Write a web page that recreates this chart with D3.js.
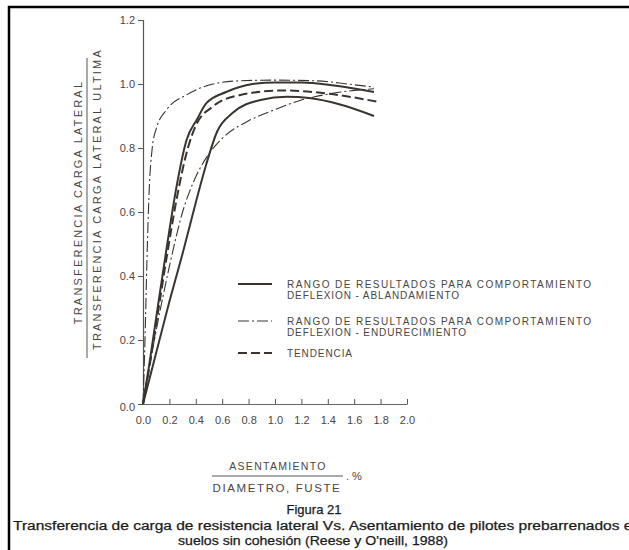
<!DOCTYPE html>
<html>
<head>
<meta charset="utf-8">
<script src="https://cdn.jsdelivr.net/npm/d3@7"></script>
<style>
  html, body { margin: 0; padding: 0; background: #fff; }
  svg { display: block; }
  text { font-family: "Liberation Sans", Arial, sans-serif; }
</style>
</head>
<body>
<svg id="chart" width="629" height="550"></svg>
<script>
// Axis ticks
const xTicks = [0.0, 0.2, 0.4, 0.6, 0.8, 1.0, 1.2, 1.4, 1.6, 1.8, 2.0];
const xTickLabels = ["0.0", "0.2", "0.4", "0.6", "0.8", "1.0", "1.2", "1.4", "1.6", "1.8", "2.0"];
const yTicks = [0.0, 0.2, 0.4, 0.6, 0.8, 1.0, 1.2];
const yTickLabels = ["0.0", "0.2", "0.4", "0.6", "0.8", "1.0", "1.2"];

// Deflexion - ablandamiento range (solid)
const ablandSupX = [0, 0.05, 0.10, 0.18, 0.25, 0.33, 0.41, 0.48, 0.63, 0.83, 1.00, 1.20, 1.45, 1.75];
const ablandSupY = [0, 0.13, 0.27, 0.49, 0.67, 0.825, 0.89, 0.94, 0.975, 1.0, 1.005, 1.005, 0.995, 0.975];
const ablandInfX = [0, 0.10, 0.20, 0.30, 0.40, 0.48, 0.56, 0.68, 0.89, 1.09, 1.26, 1.50, 1.75];
const ablandInfY = [0, 0.16, 0.32, 0.47, 0.63, 0.75, 0.85, 0.91, 0.95, 0.96, 0.956, 0.935, 0.90];

// Deflexion - endurecimiento range (dash-dot)
const endurSupX = [0, 0.015, 0.03, 0.045, 0.07, 0.10, 0.18, 0.33, 0.53, 0.73, 1.00, 1.30, 1.55, 1.75];
const endurSupY = [0, 0.20, 0.45, 0.65, 0.80, 0.86, 0.92, 0.966, 1.0, 1.01, 1.012, 1.01, 1.0, 0.99];
const endurInfX = [0, 0.05, 0.10, 0.20, 0.30, 0.40, 0.48, 0.60, 0.80, 1.00, 1.20, 1.30, 1.50, 1.75];
const endurInfY = [0, 0.12, 0.23, 0.43, 0.60, 0.71, 0.77, 0.83, 0.885, 0.92, 0.95, 0.96, 0.975, 0.985];

// Tendencia (dashed)
const tendX = [0, 0.05, 0.10, 0.18, 0.25, 0.34, 0.40, 0.53, 0.73, 1.06, 1.40, 1.77];
const tendY = [0, 0.12, 0.25, 0.46, 0.63, 0.80, 0.87, 0.93, 0.965, 0.98, 0.97, 0.945];

const legendItems = [
  { lines: ["RANGO DE RESULTADOS PARA COMPORTAMIENTO", "DEFLEXION - ABLANDAMIENTO"], style: "solid" },
  { lines: ["RANGO DE RESULTADOS PARA COMPORTAMIENTO", "DEFLEXION - ENDURECIMIENTO"], style: "dashdot" },
  { lines: ["TENDENCIA"], style: "dashed" }
];

const yLabelTop = "TRANSFERENCIA CARGA LATERAL";
const yLabelBottom = "TRANSFERENCIA CARGA LATERAL ULTIMA";
const xLabelTop = "ASENTAMIENTO";
const xLabelBottom = "DIAMETRO, FUSTE";
const captionTitle = "Figura 21";
const captionLine1 = "Transferencia de carga de resistencia lateral Vs. Asentamiento de pilotes prebarrenados en";
const captionLine2 = "suelos sin cohesión (Reese y O'neill, 1988)";

const ink = "#3a3430";
const textInk = "#4a4542";

const styles = {
  solid:   { width: 2.0, dash: null },
  dashdot: { width: 1.1, dash: "11,3,2,3" },
  dashed:  { width: 2.0, dash: "9,4" }
};

const svg = d3.select("#chart");

// Frame
svg.append("path")
  .attr("d", "M9,550 L9,7 L629,7")
  .attr("fill", "none").attr("stroke", "#000").attr("stroke-width", 2.5);

const x = d3.scaleLinear().domain([0, 2.0]).range([143, 407]);
const y = d3.scaleLinear().domain([0, 1.2]).range([404, 20]);

// Y axis
const yAxis = d3.axisLeft(y).tickValues(yTicks)
  .tickFormat((d, i) => yTickLabels[i]).tickSize(5).tickPadding(3);
const gy = svg.append("g").attr("transform", `translate(${x(0)},0)`).call(yAxis);
gy.select(".domain").attr("stroke", "#555").attr("stroke-width", 1.2);
gy.selectAll(".tick line").attr("stroke", "#555");
gy.selectAll(".tick text").attr("fill", textInk).attr("font-size", 11)
  .style("font-family", "'Liberation Sans', Arial, sans-serif");
gy.selectAll(".tick").filter(d => d === 0).select("text").attr("dy", "0.6em");

// X axis (ticks pointing up into the plot)
const xAxis = d3.axisBottom(x).tickValues(xTicks)
  .tickFormat((d, i) => xTickLabels[i]).tickSize(0).tickPadding(12);
const gx = svg.append("g").attr("transform", `translate(0,${y(0)})`).call(xAxis);
gx.select(".domain").attr("stroke", "#666").attr("stroke-width", 1.1);
gx.selectAll(".tick text").attr("fill", textInk).attr("font-size", 11)
  .style("font-family", "'Liberation Sans', Arial, sans-serif");
gx.selectAll(".tick").filter(d => d > 0).append("line")
  .attr("y1", 0).attr("y2", -5).attr("stroke", "#555");

// Curves
const line = d3.line().x(d => x(d[0])).y(d => y(d[1])).curve(d3.curveMonotoneX);
const series = [
  { xs: ablandSupX, ys: ablandSupY, style: "solid" },
  { xs: ablandInfX, ys: ablandInfY, style: "solid" },
  { xs: endurSupX, ys: endurSupY, style: "dashdot" },
  { xs: endurInfX, ys: endurInfY, style: "dashdot" },
  { xs: tendX, ys: tendY, style: "dashed" }
];
series.forEach(s => {
  const pts = s.xs.map((v, i) => [v, s.ys[i]]);
  svg.append("path").datum(pts)
    .attr("d", line)
    .attr("fill", "none")
    .attr("stroke", ink)
    .attr("stroke-width", styles[s.style].width)
    .attr("stroke-dasharray", styles[s.style].dash)
    .attr("stroke-linecap", "butt");
});

// Legend
const legendRows = [284, 321, 353];
legendItems.forEach((item, i) => {
  const ly = legendRows[i];
  svg.append("line")
    .attr("x1", 238).attr("x2", 272).attr("y1", ly).attr("y2", ly)
    .attr("stroke", ink)
    .attr("stroke-width", styles[item.style].width)
    .attr("stroke-dasharray", styles[item.style].dash);
  item.lines.forEach((t, j) => {
    const tx = svg.append("text")
      .attr("x", 287).attr("y", ly + 3.5 + j * 11.5)
      .attr("font-size", 10)
      .attr("letter-spacing", 0.9)
      .attr("fill", textInk)
      .text(t);
    if (t.length > 30) tx.attr("textLength", 305).attr("lengthAdjust", "spacing");
  });
});

// Y axis title (fraction)
const yl = svg.append("g");
yl.append("text")
  .attr("transform", "translate(82,202) rotate(-90)")
  .attr("text-anchor", "middle")
  .attr("font-size", 11).attr("letter-spacing", 2.2)
  .attr("fill", textInk).text(yLabelTop);
yl.append("line")
  .attr("x1", 87).attr("x2", 87).attr("y1", 58).attr("y2", 358)
  .attr("stroke", "#555").attr("stroke-width", 1);
yl.append("text")
  .attr("transform", "translate(101,199) rotate(-90)")
  .attr("text-anchor", "middle")
  .attr("font-size", 11).attr("letter-spacing", 2.2)
  .attr("fill", textInk).text(yLabelBottom);

// X axis title (fraction)
svg.append("text")
  .attr("x", 278).attr("y", 470).attr("text-anchor", "middle")
  .attr("font-size", 10.5).attr("letter-spacing", 1.3)
  .attr("fill", textInk).text(xLabelTop);
svg.append("line")
  .attr("x1", 212).attr("x2", 343).attr("y1", 476).attr("y2", 476)
  .attr("stroke", "#555").attr("stroke-width", 1);
svg.append("text")
  .attr("x", 277).attr("y", 492).attr("text-anchor", "middle")
  .attr("font-size", 11.5).attr("letter-spacing", 1.6)
  .attr("fill", textInk).text(xLabelBottom);
svg.append("text")
  .attr("x", 346).attr("y", 480)
  .attr("font-size", 11).attr("fill", textInk).text(". %");

// Caption
svg.append("text")
  .attr("x", 314).attr("y", 514).attr("text-anchor", "middle")
  .attr("font-size", 13).attr("fill", "#1a1a1a")
  .attr("stroke", "#1a1a1a").attr("stroke-width", 0.25)
  .text(captionTitle);
svg.append("text")
  .attr("x", 13).attr("y", 530)
  .attr("font-size", 12.5).attr("fill", "#1a1a1a")
  .attr("stroke", "#1a1a1a").attr("stroke-width", 0.25)
  .attr("textLength", 628).attr("lengthAdjust", "spacingAndGlyphs")
  .text(captionLine1);
svg.append("text")
  .attr("x", 313).attr("y", 545).attr("text-anchor", "middle")
  .attr("font-size", 12.5).attr("fill", "#1a1a1a")
  .attr("stroke", "#1a1a1a").attr("stroke-width", 0.25)
  .attr("textLength", 270).attr("lengthAdjust", "spacingAndGlyphs")
  .text(captionLine2);
</script>
</body>
</html>
